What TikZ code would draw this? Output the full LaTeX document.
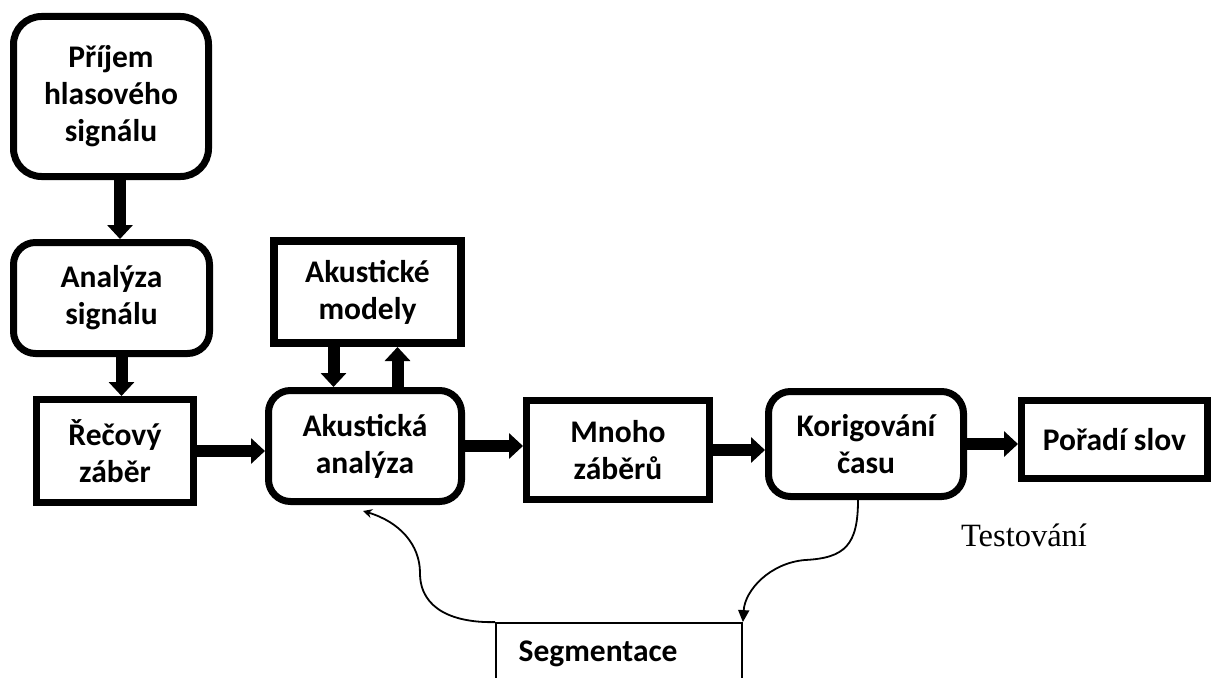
\documentclass[tikz,border=0pt]{standalone}
\usepackage{fontspec}
\setmainfont{Carlito}
\newfontfamily\serifface{Liberation Serif}
\usetikzlibrary{arrows.meta}

\begin{document}
\begin{tikzpicture}[x=1pt,y=-1pt,
 font=\bfseries\fontsize{31.5}{37}\selectfont,
 rbox/.style={draw,line width=7pt,rounded corners=22pt,align=center,inner sep=0pt},
 sbox/.style={draw,line width=7pt,align=center,inner sep=0pt},
 arrow/.style={-{Triangle[width=25pt,length=14pt]},line width=12pt},
 thinline/.style={line width=1.8pt}]
\useasboundingbox (0,0) rectangle (1214,677);
% boxes
\node[rbox,rounded corners=28pt,minimum width=195pt,minimum height=160pt] (prijem) at (111,96.5) {Příjem\\hlasového\\signálu};
\node[rbox,minimum width=196pt,minimum height=111pt] (analyza) at (111.5,298) {Analýza\\signálu};
\node[sbox,minimum width=157pt,minimum height=103pt] (zaber) at (115,451) {Řečový\\záběr};
\node[sbox,line width=8pt,minimum width=187pt,minimum height=102pt] (modely) at (367.5,292) {Akustické\\modely};
\node[rbox,minimum width=193pt,minimum height=111pt] (akanal) at (365,446) {Akustická\\analýza};
\node[sbox,minimum width=183pt,minimum height=99pt] (mnoho) at (618,450) {Mnoho\\záběrů};
\node[rbox,minimum width=195pt,minimum height=105pt] (korig) at (866,444) {Korigování\\času};
\node[sbox,minimum width=186pt,minimum height=78pt] (poradi) at (1114.5,439.5) {Pořadí slov};
\node[draw,thinline,minimum width=246pt,minimum height=90pt] (segm) at (619,668) {};
\node[anchor=west] (segtext) at ([xshift=20pt,yshift=-32pt]segm.north west) {Segmentace};
\node[font=\serifface\fontsize{32.5}{38}\selectfont] (test) at (1024,535) {Testování};
% thick arrows
\draw[arrow] ([xshift=9pt]prijem.south) -- ([xshift=9pt]prijem.south |- analyza.north);
\draw[arrow] ([xshift=10pt]analyza.south) -- ([xshift=10pt]analyza.south |- zaber.north);
\draw[arrow] (zaber.east) -- (zaber.east -| akanal.west);
\draw[arrow] ([xshift=-34pt]modely.south) -- ([xshift=-34pt]modely.south |- akanal.north);
\draw[arrow] ([xshift=30pt]modely.south |- akanal.north) -- ([xshift=30pt]modely.south);
\draw[arrow] (akanal.east) -- (akanal.east -| mnoho.west);
\draw[arrow] (mnoho.east) -- (mnoho.east -| korig.west);
\draw[arrow] (korig.east) -- (korig.east -| poradi.west);
% feedback curves
\draw[thinline,-{Stealth[length=9pt,width=9pt]}] (segm.north west) .. controls (455,623) and (420,610) .. (420,573) .. controls (420,545) and (400,522) .. ([xshift=-2pt,yshift=-6pt]akanal.south);
\draw[thinline,-{Triangle[length=12pt,width=11pt]}] ([xshift=-8pt]korig.south) .. controls (858,545) and (845,558) .. (805,560) .. controls (770,563) and (745,590) .. (segm.north east);
\end{tikzpicture}
\end{document}
